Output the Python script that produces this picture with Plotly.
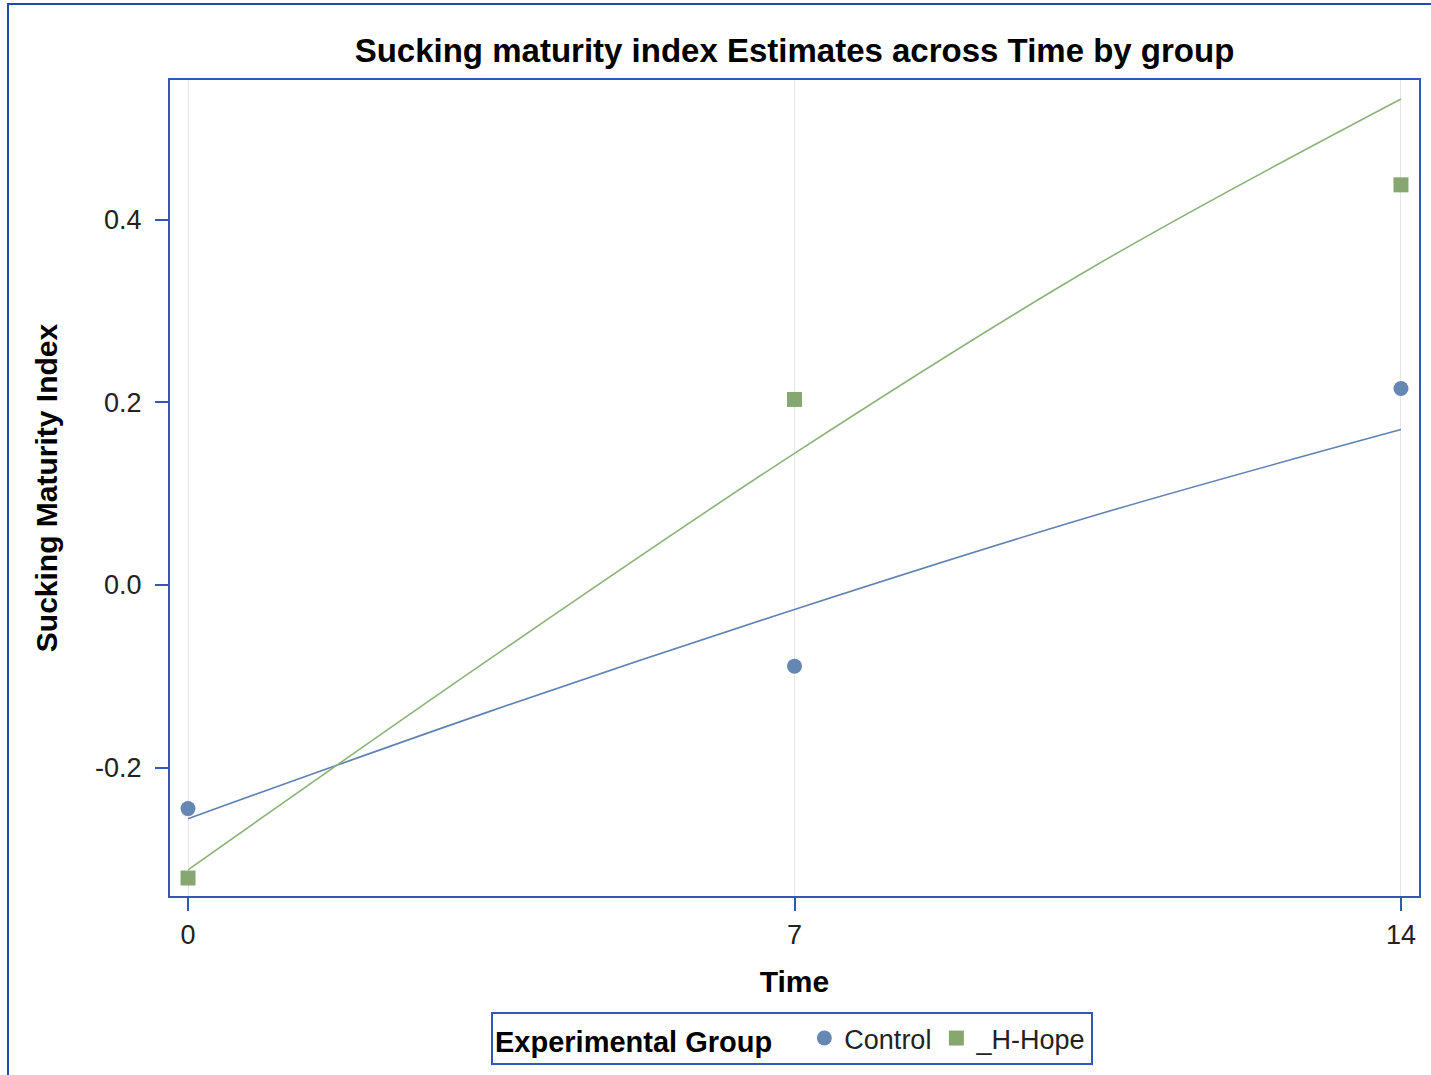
import plotly.graph_objects as go

time_points = [0, 7, 14]
control_est = [-0.245, -0.089, 0.215]
hope_est = [-0.321, 0.203, 0.438]

fit_x = [0, 3.5, 7, 10.5, 14]
control_fit = [-0.256, -0.138, -0.027, 0.077, 0.170]
hope_fit = [-0.312, -0.080, 0.144, 0.351, 0.532]

group_names = ["Control", "_H-Hope"]
blue_m, green_m = "#6587B3", "#86A870"
blue_l, green_l = "#5F82B3", "#8DB27A"
axis_col = "#2F58B8"
font = "Liberation Sans, Arial"

fig = go.Figure()
fig.add_trace(go.Scatter(x=fit_x, y=control_fit, mode="lines", line=dict(color=blue_l, width=1.6, shape="spline"), showlegend=False, hoverinfo="skip"))
fig.add_trace(go.Scatter(x=fit_x, y=hope_fit, mode="lines", line=dict(color=green_l, width=1.6, shape="spline"), showlegend=False, hoverinfo="skip"))
fig.add_trace(go.Scatter(x=time_points, y=control_est, mode="markers", name=group_names[0], marker=dict(symbol="circle", size=15, color=blue_m)))
fig.add_trace(go.Scatter(x=time_points, y=hope_est, mode="markers", name=group_names[1], marker=dict(symbol="square", size=15, color=green_m)))

W, H = 1431, 1075
L, R, T, B = 170, 12, 80, 179
pw, ph = W - L - R, H - T - B

fig.update_layout(
    width=W, height=H,
    margin=dict(l=L, r=R, t=T, b=B, autoexpand=False),
    paper_bgcolor="white", plot_bgcolor="white",
    title=dict(text="<b>Sucking maturity index Estimates across Time by group</b>",
               x=(L + pw / 2) / W, xanchor="center", y=1 - 50 / H, yanchor="middle",
               font=dict(family=font, size=33, color="black")),
    xaxis=dict(range=[-0.208, 14.208], tickvals=time_points, ticktext=["0", "7", "14"],
               showgrid=True, gridcolor="#E6E6E6", gridwidth=1, zeroline=False,
               showline=True, linecolor=axis_col, linewidth=2, mirror=True,
               ticks="outside", ticklen=13, tickwidth=2, tickcolor=axis_col,
               ticklabelstandoff=1,
               tickfont=dict(family=font, size=27, color="#222"),
               title=dict(text="<b>Time</b>", font=dict(family=font, size=30, color="black"), standoff=22)),
    yaxis=dict(range=[-0.3407, 0.5528], tickvals=[-0.2, 0.0, 0.2, 0.4], ticktext=["-0.2", "0.0", "0.2", "0.4"],
               showgrid=False, zeroline=False,
               showline=True, linecolor=axis_col, linewidth=2, mirror=True,
               ticks="outside", ticklen=13, tickwidth=2, tickcolor=axis_col,
               ticklabelstandoff=8,
               tickfont=dict(family=font, size=27, color="#222"),
               title=dict(text="<b>Sucking Maturity Index</b>", font=dict(family=font, size=30, color="black"), standoff=29)),
    legend=dict(orientation="h", x=(792 - L) / pw, xanchor="center", y=-(1012 - 896) / ph, yanchor="top",
                bordercolor=axis_col, borderwidth=2, bgcolor="white",
                title=dict(text="<b>Experimental Group</b>   ", side="left",
                           font=dict(family=font, size=29, color="black")),
                font=dict(family=font, size=27, color="#222"),
                itemwidth=30, tracegroupgap=0),
    showlegend=True,
)

fig.add_shape(type="rect", xref="paper", yref="paper",
              x0=(8 - L) / pw, x1=(1440 - L) / pw, y0=-(1090 - (T + ph)) / ph, y1=(T + ph - 4) / ph,
              line=dict(color="#1F4AA8", width=2), fillcolor="rgba(0,0,0,0)", layer="below")

fig.write_html("out.html", config={"displayModeBar": False},
               post_script="document.body.style.margin='0';document.body.style.overflow='hidden';")
